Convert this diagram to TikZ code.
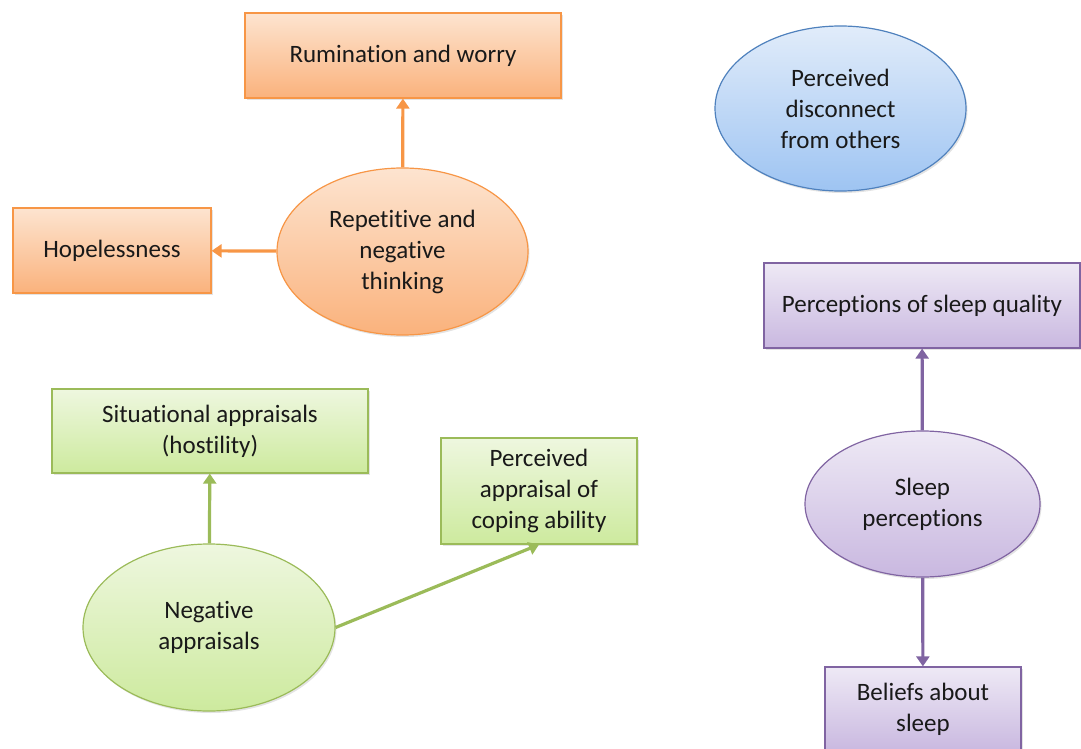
\documentclass[tikz,border=0pt]{standalone}
\usepackage{fontspec}
\setmainfont[Ligatures={NoCommon,NoRare}]{Carlito}
\usetikzlibrary{shapes.geometric,arrows.meta,shadows}

\definecolor{orline}{HTML}{F79646}
\definecolor{ortop}{HTML}{FDE4D0}
\definecolor{orbot}{HTML}{FAB27C}
\definecolor{grline}{HTML}{9BBB59}
\definecolor{grtop}{HTML}{EEF7DF}
\definecolor{grbot}{HTML}{CDEA9E}
\definecolor{puline}{HTML}{8064A2}
\definecolor{putop}{HTML}{EEE9F5}
\definecolor{pubot}{HTML}{C9B8E0}
\definecolor{blline}{HTML}{4F81BD}
\definecolor{bltop}{HTML}{E1ECFA}
\definecolor{blbot}{HTML}{9EC4F2}

\tikzset{
	shape base/.style={line width=1.2pt, inner sep=0pt, align=center,
		font=\fontsize{25}{31}\selectfont, text=black!90,
		drop shadow={opacity=0.22, shadow xshift=1.5pt, shadow yshift=-2pt}},
	orange/.style={shape base, draw=orline, top color=ortop, bottom color=orbot},
	green/.style={shape base, draw=grline, top color=grtop, bottom color=grbot},
	purple/.style={shape base, draw=puline, top color=putop, bottom color=pubot},
	blue/.style={shape base, draw=blline, top color=bltop, bottom color=blbot},
	rbox/.style={rectangle, minimum width=#1, minimum height=85pt},
	oval/.style={ellipse, minimum width=251pt, minimum height=167pt},
	link/.style={line width=3.2pt, -{Triangle[length=10pt,width=13pt]}},
}

\begin{document}
\begin{tikzpicture}[x=1pt,y=-1pt]
		\useasboundingbox (0,0) rectangle (1081,749);
		% thinking cluster
		\node[orange, rbox=316pt] (rumination) at (403,55.5) {Rumination and worry};
		\node[orange, rbox=198pt] (hopeless) at (112,250.5) {Hopelessness};
		\node[orange, oval] (repetitive) at (402.5,251.5) {Repetitive and\\negative\\thinking};
		% disconnect
		\node[blue, oval, minimum height=165pt] (disconnect) at (840.5,108.5) {Perceived\\disconnect\\from others};
		% appraisal cluster
		\node[green, rbox=316pt, minimum height=84pt] (situational) at (210,431) {Situational appraisals\\(hostility)};
		\node[green, rbox=196pt, minimum height=106pt] (coping) at (539,491) {Perceived\\appraisal of\\coping ability};
		\node[green, oval, minimum width=252pt] (negative) at (209,627.5) {Negative\\appraisals};
		% sleep cluster
		\node[purple, rbox=316pt] (quality) at (922,305.5) {Perceptions of sleep quality};
		\node[purple, oval, minimum width=235pt, minimum height=146pt] (sleep) at (922.5,504) {Sleep\\perceptions};
		\node[purple, rbox=196pt] (beliefs) at (923,709.5) {Beliefs about\\sleep};
		
		\draw[link, orline] (repetitive) -- (rumination);
		\draw[link, orline] (repetitive) -- (hopeless);
		\draw[link, grline] (negative) -- (situational);
		\draw[link, grline] (negative.east) -- (coping.south);
		\draw[link, puline] (sleep) -- (quality);
		\draw[link, puline] (sleep) -- (beliefs);
\end{tikzpicture}
\end{document}
